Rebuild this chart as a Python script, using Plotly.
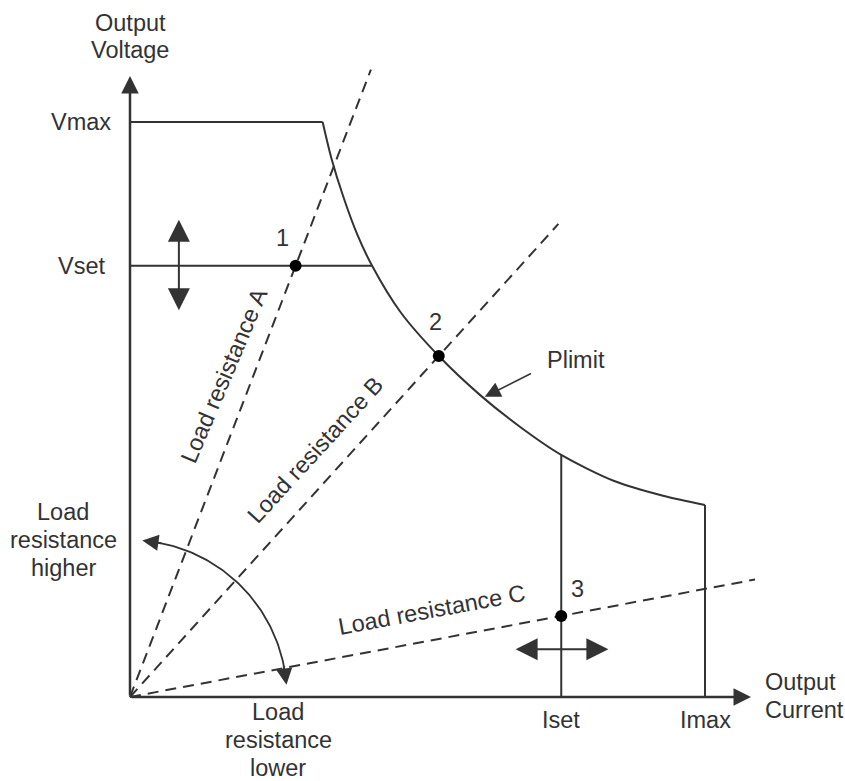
import numpy as np
import plotly.graph_objects as go

# Output limits of the supply (normalised units)
V_MAX, V_SET = 10.0, 7.5
I_SET, I_MAX = 7.5, 10.0
AXIS_END = 10.8

# Constant-power boundary, sampled as (current, voltage)
plimit_i = [3.35, 3.50, 3.71, 3.95, 4.21, 4.70, 5.37, 6.09, 6.78, 7.50, 8.41, 9.27, 10.0]
plimit_v = [10.0, 9.38, 8.70, 8.05, 7.50, 6.70, 5.93, 5.25, 4.70, 4.21, 3.76, 3.50, 3.34]

# Operating points where each load line settles
op_labels = ["1", "2", "3"]
op_i = [2.88, 5.37, 7.50]
op_v = [7.50, 5.93, 1.41]

# Load lines and how far along the current axis each one is drawn
load_names = ["Load resistance A", "Load resistance B", "Load resistance C"]
load_end_i = [4.19, 7.45, 10.87]

INK = "#333333"
FONT = dict(family="Liberation Sans, Arial, sans-serif", size=23.5, color=INK)

# pixel scale: 57.5 px per unit on both axes, origin at (130, 697)
PX = 57.5
W, H = 845, 781
OX, OY = 130, 697

fig = go.Figure()

# Voltage ceiling and the power-limit curve
i_at_vmax = plimit_i[0]
v_at_imax = plimit_v[-1]
fig.add_trace(go.Scatter(x=[0, i_at_vmax], y=[V_MAX, V_MAX], mode="lines",
                         line=dict(color=INK, width=2)))
fig.add_trace(go.Scatter(x=plimit_i, y=plimit_v, mode="lines",
                         line=dict(color=INK, width=2, shape="spline", smoothing=0.8)))
fig.add_trace(go.Scatter(x=[I_MAX, I_MAX], y=[0, v_at_imax], mode="lines",
                         line=dict(color=INK, width=2)))

# Vset and Iset settings, each stopping at the power-limit curve
i_at_vset = float(np.interp(V_SET, plimit_v[::-1], plimit_i[::-1]))
v_at_iset = float(np.interp(I_SET, plimit_i, plimit_v))
fig.add_trace(go.Scatter(x=[0, i_at_vset], y=[V_SET, V_SET], mode="lines",
                         line=dict(color=INK, width=2)))
fig.add_trace(go.Scatter(x=[I_SET, I_SET], y=[0, v_at_iset], mode="lines",
                         line=dict(color=INK, width=2)))

# Load lines through the origin
for name, pi, pv, end in zip(load_names, op_i, op_v, load_end_i):
    slope = pv / pi
    fig.add_trace(go.Scatter(x=[0, end], y=[0, slope * end], mode="lines", name=name,
                             line=dict(color=INK, width=2, dash="11px,7px")))

# Operating points
fig.add_trace(go.Scatter(x=op_i, y=op_v, mode="markers",
                         marker=dict(color="black", size=12)))

# Arc showing the sweep of load resistance
R_ARC = 2.73
theta = np.radians(np.linspace(7, 83, 80))
fig.add_trace(go.Scatter(x=R_ARC * np.cos(theta), y=R_ARC * np.sin(theta), mode="lines",
                         line=dict(color=INK, width=1.8)))

ann = []


def arrow(x0, y0, x1, y1, width, size, both=False):
    d = dict(x=x1, y=y1, ax=x0, ay=y0, xref="x", yref="y", axref="x", ayref="y",
             text="", showarrow=True, arrowhead=2, arrowsize=size, arrowwidth=width,
             arrowcolor=INK, standoff=0, startstandoff=0)
    if both:
        d.update(arrowside="end+start", startarrowhead=2, startarrowsize=size)
    ann.append(d)


# Axes
arrow(0, 0, 0, AXIS_END, 2.5, 1.4)
arrow(0, 0, AXIS_END, 0, 2.5, 1.4)

# Adjustment arrows for Vset and Iset
arrow(0.85, V_SET - 0.8, 0.85, V_SET + 0.8, 2, 2.2, both=True)
arrow(I_SET - 0.82, 0.83, I_SET + 0.82, 0.83, 2, 2.2, both=True)

# Arrowheads on both ends of the arc
for a_tip, a_tail in [(85.5, 78.0), (4.5, 12.0)]:
    arrow(R_ARC * np.cos(np.radians(a_tail)), R_ARC * np.sin(np.radians(a_tail)),
          R_ARC * np.cos(np.radians(a_tip)), R_ARC * np.sin(np.radians(a_tip)), 1.8, 1.8)

# Pointer to the power-limit curve
arrow(7.0, 5.64, 6.17, 5.22, 1.5, 2.1)


def label(x, y, text, xanchor="center", angle=0):
    ann.append(dict(x=x, y=y, xref="x", yref="y", text=text, showarrow=False,
                    xanchor=xanchor, yanchor="middle", textangle=angle, font=FONT))


def stacked(x, ys, lines, xanchor="center"):
    for yy, t in zip(ys, lines):
        label(x, yy, t, xanchor=xanchor)


stacked(0, [11.72, 11.25], ["Output", "Voltage"])
stacked(11.01, [0.26, -0.23], ["Output", "Current"], xanchor="left")
stacked(2.58, [-0.26, -0.75, -1.235], ["Load", "resistance", "lower"])
stacked(-1.165, [3.217, 2.730, 2.243], ["Load", "resistance", "higher"])
label(-0.85, V_MAX, "Vmax")
label(-0.85, V_SET, "Vset")
label(I_SET, -0.40, "Iset")
label(I_MAX, -0.40, "Imax")
label(7.76, 5.86, "Plimit")

# Numbers beside the operating points
for t, pi, pv, dx, dy in zip(op_labels, op_i, op_v, [-0.22, -0.05, 0.29], [0.48, 0.6, 0.47]):
    label(pi + dx, pv + dy, t)

# Load line names set along each line
for name, (lx, ly), ang in zip(load_names, [(1.635, 5.58), (3.22, 4.30), (5.235, 1.52)],
                               [-67, -47.5, -10.5]):
    label(lx, ly, name, angle=ang)

fig.update_layout(
    width=W, height=H, margin=dict(l=0, r=0, t=0, b=0),
    paper_bgcolor="white", plot_bgcolor="white", showlegend=False,
    xaxis=dict(range=[-OX / PX, (W - OX) / PX], visible=False, fixedrange=True),
    yaxis=dict(range=[-(H - OY) / PX, OY / PX], visible=False, fixedrange=True),
    annotations=ann,
)

fig.write_html("out.html")
